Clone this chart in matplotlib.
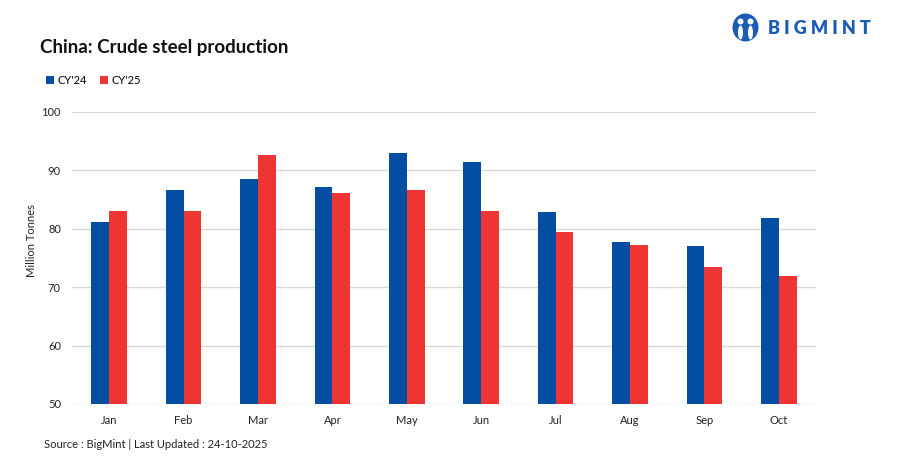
import numpy as np
import matplotlib.pyplot as plt
from matplotlib.patches import Ellipse

months = ['Jan', 'Feb', 'Mar', 'Apr', 'May', 'Jun', 'Jul', 'Aug', 'Sep', 'Oct']
cy24 = [81.1, 86.7, 88.6, 87.1, 92.9, 91.5, 82.9, 77.8, 77.0, 81.8]
cy25 = [83.1, 83.1, 92.7, 86.1, 86.6, 83.1, 79.5, 77.3, 73.4, 72.0]

blue = '#034EA2'
red = '#EE3534'
logo_blue = '#1A5BB5'

plt.rcParams['font.family'] = ['Lato', 'DejaVu Sans']

W, H = 901, 462
fig = plt.figure(figsize=(W/100, H/100), dpi=100)
ax = fig.add_axes([72/W, 1-404/H, 744/W, 292/H])

x = np.arange(len(months))
w = 0.24
ax.bar(x - w/2, cy24, w, color=blue, label="CY'24", zorder=3)
ax.bar(x + w/2, cy25, w, color=red, label="CY'25", zorder=3)

ax.set_xlim(-0.5, len(months) - 0.5)
ax.set_ylim(50, 100)
ax.set_yticks([50, 60, 70, 80, 90, 100])
ax.set_xticks(x)
ax.set_xticklabels(months)
ax.tick_params(axis='both', length=0, labelsize=8, colors='#222222')
ax.tick_params(axis='y', pad=8)
ax.tick_params(axis='x', pad=8)
ax.grid(axis='y', color='#D9D9D9', linewidth=1, zorder=0)
for s in ax.spines.values():
    s.set_visible(False)
ax.set_ylabel('Million Tonnes', fontsize=8, color='#222222')
ax.yaxis.set_label_coords((37-72)/744, (404-241)/292)

fig.text(40/W, 1-47/H, 'China: Crude steel production', fontsize=13.5,
         fontweight='bold', va='center', ha='left', color='#111111')

ax.legend(loc='upper left', bbox_to_anchor=(36/W, 1-65/H), bbox_transform=fig.transFigure,
          ncol=2, frameon=False, fontsize=8, handlelength=0.7, handleheight=0.7,
          handletextpad=0.3, columnspacing=1.2)

fig.text(44/W, 1-444/H, 'Source : BigMint | Last Updated : 24-10-2025', fontsize=8,
         va='center', ha='left', color='#222222')

# logo
cx, cy = 745.5/W, 1-27.5/H
fig.patches.append(Ellipse((cx, cy), 26/W, 28/H, transform=fig.transFigure,
                           facecolor=logo_blue, edgecolor='none'))
for dx in (-5, 5):
    fig.patches.append(Ellipse((cx + dx/W, cy + 6/H), 6/W, 6/H, transform=fig.transFigure,
                               facecolor='white', edgecolor='none'))
    fig.patches.append(Ellipse((cx + dx/W, cy - 5/H), 5/W, 14/H, transform=fig.transFigure,
                               facecolor='white', edgecolor='none'))
fig.text(768/W, 1-29/H, 'B I G M I N T', fontsize=13, fontweight='heavy',
         color=logo_blue, va='center', ha='left')

fig.savefig('out.png', dpi=100)
